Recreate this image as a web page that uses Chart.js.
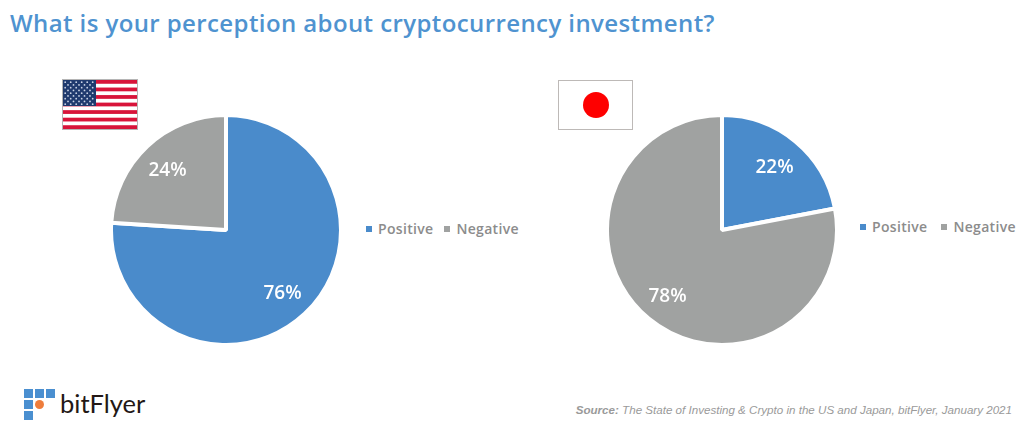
<!DOCTYPE html>
<html>
<head>
<meta charset="utf-8">
<script src="https://cdn.jsdelivr.net/npm/chart.js@4"></script>
<style>
  html, body { margin: 0; padding: 0; background: #fff; }
  body { position: relative; width: 1024px; height: 429px; overflow: hidden; font-family: "Open Sans", sans-serif; }
  .abs { position: absolute; }
  #titulo { left: 10px; top: 6px; font-size: 24px; font-weight: 600; color: #4f93d0; letter-spacing: 0.4px; white-space: nowrap; line-height: 34px; }
  .legenda { font-size: 14px; font-weight: 600; color: #8c8c8c; white-space: nowrap; line-height: 18px; letter-spacing: 0.32px; }
  .legenda i { display: inline-block; width: 6px; height: 6px; margin-right: 6px; vertical-align: 2px; }
  .legenda span { margin-right: 11px; }
  #legenda-japao span { margin-right: 14px; }
  #fonte { right: 12px; top: 403px; font: italic 11.6px "Liberation Sans", sans-serif; color: #9a9a9a; white-space: nowrap; }
  #marca { left: 60px; top: 384px; font: 400 25.5px Lato, sans-serif; color: #231815; line-height: 38px; }
</style>
</head>
<body>
<div id="titulo" class="abs">What is your perception about cryptocurrency investment?</div>

<!-- bandeiras -->
<svg class="abs" style="left:62px;top:79px" width="76" height="51" viewBox="0 0 76 51">
  <rect x="0.5" y="0.5" width="75" height="50" fill="#fff" stroke="#b5b5b5"/>
  <g id="riscas" fill="#d8143a"></g>
  <rect x="1" y="1" width="33" height="26" fill="#1f3a6e"/>
  <g id="estrelas" fill="#c9d3e6"></g>
</svg>
<svg class="abs" style="left:558px;top:80px" width="76" height="50" viewBox="0 0 76 50">
  <rect x="0.5" y="0.5" width="74" height="49" fill="#fff" stroke="#bdb9b7"/>
  <circle cx="38" cy="25" r="13" fill="#fe0000"/>
</svg>

<canvas id="pie-eua" class="abs" style="left:109px;top:113px" width="234" height="234"></canvas>
<canvas id="pie-japao" class="abs" style="left:605px;top:113px" width="234" height="234"></canvas>

<div id="legenda-eua" class="abs legenda" style="left:366px;top:220px"></div>
<div id="legenda-japao" class="abs legenda" style="left:860px;top:218px"></div>

<!-- logotipo -->
<svg class="abs" style="left:24px;top:389px" width="32" height="32" viewBox="0 0 32 32">
  <g fill="#4a8fd0">
    <rect x="0" y="0" width="9" height="9"/><rect x="11" y="0" width="9" height="9"/><rect x="22" y="0" width="9" height="9"/>
    <rect x="0" y="11" width="9" height="9"/><rect x="0" y="22" width="9" height="9"/>
  </g>
  <circle cx="15.500" cy="15.500" r="4.500" fill="#ee7d3c"/>
</svg>
<div id="marca" class="abs">bitFlyer</div>

<div id="fonte" class="abs"><b>Source:</b> The State of Investing &amp; Crypto in the US and Japan, bitFlyer, January 2021</div>

<script>
const categorias = ['Positive', 'Negative'];
const valoresEUA = [76, 24];
const valoresJapao = [22, 78];
const cores = ['#4a8bcb', '#a0a2a1'];

// Escreve a percentagem dentro de cada fatia.
const rotulosFatia = {
  id: 'rotulosFatia',
  afterDatasetsDraw(chart) {
    const { ctx } = chart;
    const arcos = chart.getDatasetMeta(0).data;
    ctx.save();
    ctx.fillStyle = '#fff';
    ctx.font = '600 19px "Open Sans"';
    ctx.textAlign = 'center';
    ctx.textBaseline = 'middle';
    arcos.forEach((arco, i) => {
      const meio = (arco.startAngle + arco.endAngle) / 2;
      const r = arco.outerRadius * 0.73;
      const x = arco.x + Math.cos(meio) * r - 1;
      const y = arco.y + Math.sin(meio) * r + 2;
      ctx.fillText(chart.data.datasets[0].data[i] + '%', x, y);
    });
    ctx.restore();
  },
};

function desenharPie(id, valores) {
  return new Chart(document.getElementById(id), {
    type: 'pie',
    data: {
      labels: categorias,
      datasets: [{
        data: valores,
        backgroundColor: cores,
        borderColor: '#fff',
        borderWidth: 4,
        hoverOffset: 0,
      }],
    },
    options: {
      responsive: false,
      animation: false,
      plugins: {
        legend: { display: false },
        tooltip: { enabled: false },
      },
    },
    plugins: [rotulosFatia],
  });
}

function desenharLegenda(id) {
  document.getElementById(id).innerHTML = categorias
    .map((c, i) => `<span><i style="background:${cores[i]}"></i>${c}</span>`)
    .join('');
}

// Riscas e estrelas da bandeira dos EUA.
function desenharBandeira() {
  const riscas = document.getElementById('riscas');
  const estrelas = document.getElementById('estrelas');
  const ns = 'http://www.w3.org/2000/svg';
  for (let i = 0; i < 13; i += 2) {
    const r = document.createElementNS(ns, 'rect');
    r.setAttribute('x', 1);
    r.setAttribute('y', 1 + i * 49 / 13);
    r.setAttribute('width', 74);
    r.setAttribute('height', 49 / 13);
    riscas.appendChild(r);
  }
  for (let l = 0; l < 9; l++) {
    const n = l % 2 ? 5 : 6;
    for (let c = 0; c < n; c++) {
      const e = document.createElementNS(ns, 'circle');
      e.setAttribute('cx', (l % 2 ? 6 : 3.2) + c * 5.5);
      e.setAttribute('cy', 3.2 + l * 2.75);
      e.setAttribute('r', 0.9);
      estrelas.appendChild(e);
    }
  }
}

desenharBandeira();
desenharPie('pie-eua', valoresEUA);
desenharPie('pie-japao', valoresJapao);
desenharLegenda('legenda-eua');
desenharLegenda('legenda-japao');
</script>
</body>
</html>
